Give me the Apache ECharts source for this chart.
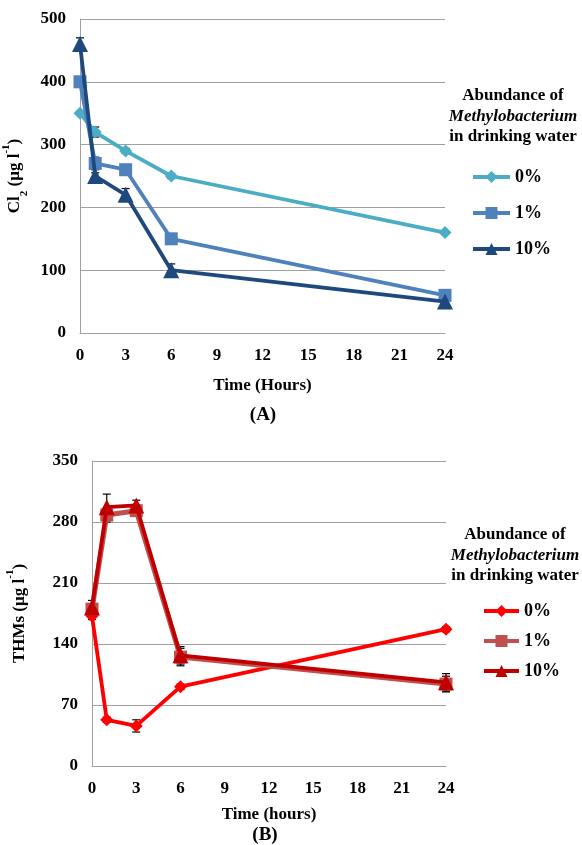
<!DOCTYPE html>
<html><head><meta charset="utf-8">
<script src="https://cdn.jsdelivr.net/npm/echarts@6/dist/echarts.min.js"></script>
<style>html,body{margin:0;padding:0;background:#fff}#c{width:582px;height:845px}</style>
</head><body><div id="c"></div>
<script>
// ---- data ----
var hours = [0, 1, 3, 6, 24];
var xTicks = [0, 3, 6, 9, 12, 15, 18, 21, 24];
var seriesNames = ['0%', '1%', '10%'];
// Panel A: Cl2 (µg l-1)
var clA0 = [350, 320, 290, 250, 160];
var clA1 = [400, 270, 260, 150, 60];
var clA10 = [460, 250, 220, 100, 50];
var clErr0 = [3, 8, 4, 4, 3];
var clErr1 = [3, 10, 4, 4, 3];
var clErr10 = [10, 5, 10, 10, 3];
// Panel B: THMs (µg l-1)
var thB0 = [172, 53, 46, 91, 157];
var thB1 = [180, 288, 293, 125, 94];
var thB10 = [182, 297, 299, 127, 96];
var thErr0 = [4, 3, 7, 3, 3];
var thErr1 = [5, 8, 5, 10, 9];
var thErr10 = [8, 15, 6, 10, 10];

var serif = '"Liberation Serif","DejaVu Serif",serif';
var colA = ['#4BACC6', '#4F81BD', '#1F497D'];
var colB = ['#FF0000', '#C0504D', '#C00000'];
var symbols = ['diamond', 'rect', 'triangle'];
var symSize = [13, 13, 16];

function pairs(vals) { return hours.map(function (h, i) { return [h, vals[i]]; }); }
function errData(vals, errs) { return hours.map(function (h, i) { return [h, vals[i] - errs[i], vals[i] + errs[i]]; }); }

function errSeries(idx, vals, errs) {
  return {
    type: 'custom', xAxisIndex: idx, yAxisIndex: idx, z: 1, silent: true,
    data: errData(vals, errs),
    renderItem: function (params, api) {
      var lo = api.coord([api.value(0), api.value(1)]);
      var hi = api.coord([api.value(0), api.value(2)]);
      var w = 4;
      var st = { stroke: '#000', lineWidth: 1.2 };
      return { type: 'group', children: [
        { type: 'line', shape: { x1: lo[0], y1: lo[1], x2: hi[0], y2: hi[1] }, style: st },
        { type: 'line', shape: { x1: hi[0] - w, y1: hi[1], x2: hi[0] + w, y2: hi[1] }, style: st },
        { type: 'line', shape: { x1: lo[0] - w, y1: lo[1], x2: lo[0] + w, y2: lo[1] }, style: st }
      ]};
    }
  };
}
function lineSeries(idx, name, vals, color, k, width) {
  return {
    type: 'line', name: name, xAxisIndex: idx, yAxisIndex: idx, z: 3 + k,
    data: pairs(vals), symbol: symbols[k], symbolSize: symSize[k],
    lineStyle: { color: color, width: width || 3.8 }, itemStyle: { color: color },
    emphasis: { disabled: true }
  };
}

var labelStyle = { fontFamily: serif, fontWeight: 'bold', fontSize: 17, color: '#000' };
function xAxis(idx, name, gap) {
  return {
    type: 'value', gridIndex: idx, min: 0, max: 24, interval: 3,
    name: name, nameLocation: 'middle', nameGap: gap,
    nameTextStyle: { fontFamily: serif, fontWeight: 'bold', fontSize: 17, color: '#000' },
    axisLine: { show: true, lineStyle: { color: '#a0a0a0', width: 1 } },
    axisTick: { show: false }, splitLine: { show: false },
    axisLabel: Object.assign({ margin: 14 }, labelStyle)
  };
}
function yAxis(idx, max, interval, name, gap) {
  return {
    type: 'value', gridIndex: idx, min: 0, max: max, interval: interval,
    name: name, nameLocation: 'middle', nameGap: gap, nameRotate: 90,
    nameTextStyle: {
      fontFamily: serif, fontWeight: 'bold', fontSize: 17, color: '#000',
      rich: {
        b: { fontFamily: serif, fontWeight: 'bold', fontSize: 17, color: '#000' },
        sub: { fontFamily: serif, fontWeight: 'bold', fontSize: 11, color: '#000', verticalAlign: 'bottom', lineHeight: 17, padding: [0, 0, -6, 0] },
        sup: { fontFamily: serif, fontWeight: 'bold', fontSize: 11, color: '#000', verticalAlign: 'top', lineHeight: 17, padding: [-6, 0, 0, 0] }
      }
    },
    axisLine: { show: true, lineStyle: { color: '#a0a0a0', width: 1 } },
    axisTick: { show: false },
    splitLine: { show: true, lineStyle: { color: '#a0a0a0', width: 1 } },
    axisLabel: Object.assign({ margin: 14 }, labelStyle)
  };
}

var legendText = { fontFamily: serif, fontWeight: 'bold', fontSize: 18, color: '#000' };
function titleGraphic(cx, y) {
  var s = { fontFamily: serif, fontWeight: 'bold', fontSize: 17, fill: '#000', align: 'center', verticalAlign: 'middle' };
  return [
    { type: 'text', style: Object.assign({}, s, { text: 'Abundance of', x: cx, y: y }) },
    { type: 'text', style: Object.assign({}, s, { text: 'Methylobacterium', x: cx, y: y + 20.5, fontStyle: 'italic' }) },
    { type: 'text', style: Object.assign({}, s, { text: 'in drinking water', x: cx, y: y + 40.5 }) }
  ];
}

var chart = echarts.init(document.getElementById('c'));
chart.setOption({
  animation: false,
  backgroundColor: '#fff',
  title: [
    { text: '(A)', left: 258, top: 410, textAlign: 'center', textVerticalAlign: 'middle', textStyle: { fontFamily: serif, fontWeight: 'bold', fontSize: 19, color: '#000' } },
    { text: '(B)', left: 260, top: 830, textAlign: 'center', textVerticalAlign: 'middle', textStyle: { fontFamily: serif, fontWeight: 'bold', fontSize: 19, color: '#000' } }
  ],
  grid: [
    { left: 80, top: 19, width: 365, height: 314, containLabel: false, outerBoundsMode: 'none' },
    { left: 92, top: 461, width: 354, height: 305, containLabel: false, outerBoundsMode: 'none' }
  ],
  xAxis: [xAxis(0, 'Time (Hours)', 44), xAxis(1, 'Time (hours)', 40)],
  yAxis: [
    yAxis(0, 500, 100, '{b|Cl}{sub|2}{b| (µg l}{sup|-1}{b|)}', 50),
    yAxis(1, 350, 70, '{b|THMs (µg l}{sup|-1}{b|)}', 64)
  ],
  legend: [
    { orient: 'vertical', left: 471, top: 168, padding: 0, itemWidth: 37, itemHeight: 15, itemGap: 18,
      lineStyle: { width: 4 },
      data: seriesNames, textStyle: legendText, selectedMode: false },
    { orient: 'vertical', left: 482, top: 602, padding: 0, itemWidth: 35, itemHeight: 15, itemGap: 12,
      lineStyle: { width: 4 },
      data: seriesNames.map(function (n) { return 'B' + n; }),
      formatter: function (n) { return n.slice(1); }, textStyle: legendText, selectedMode: false }
  ],
  graphic: titleGraphic(513, 96).concat(titleGraphic(515, 535)),
  series: [
    errSeries(0, clA0, clErr0), errSeries(0, clA1, clErr1), errSeries(0, clA10, clErr10),
    lineSeries(0, '0%', clA0, colA[0], 0),
    lineSeries(0, '1%', clA1, colA[1], 1),
    lineSeries(0, '10%', clA10, colA[2], 2),
    errSeries(1, thB0, thErr0), errSeries(1, thB1, thErr1), errSeries(1, thB10, thErr10),
    lineSeries(1, 'B0%', thB0, colB[0], 0),
    lineSeries(1, 'B1%', thB1, colB[1], 1, 5),
    lineSeries(1, 'B10%', thB10, colB[2], 2)
  ]
});
</script></body></html>
